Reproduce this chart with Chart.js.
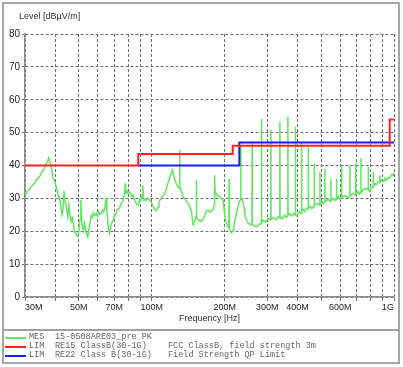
<!DOCTYPE html>
<html lang="en">
<head>
<meta charset="UTF-8">
<title>Level vs Frequency</title>
<script src="https://cdn.jsdelivr.net/npm/chart.js"></script>
<style>
  body { margin: 0; background: #fff; width: 403px; height: 367px; overflow: hidden; }
  #frame { position: absolute; left: 2px; top: 2px; width: 394px; height: 358px; border: 2px solid #a6a6a6; }
  #sep { position: absolute; left: 3px; top: 329px; width: 396px; height: 2px; background: #a0a0a0; }
  #wrap { position: absolute; left: 0; top: 0; width: 403px; height: 330px; }
  #ylab { position: absolute; left: 19px; top: 11px; font: 9px "Liberation Sans", Arial, sans-serif; color: #333; }
  .leg { position: absolute; font: 8.5px "Liberation Mono", monospace; color: #666; white-space: pre; line-height: 9px; }
  .swatch { position: absolute; left: 5px; width: 21px; height: 2px; }
</style>
</head>
<body>
<div id="frame"></div>
<div id="wrap"><canvas id="emc" width="403" height="330"></canvas></div>
<div id="ylab">Level [dBµV/m]</div>
<div id="sep"></div>

<div class="swatch" style="top:337px;background:#5ee85e"></div>
<div class="swatch" style="top:346px;background:#ff2020"></div>
<div class="swatch" style="top:355px;background:#1a1aff"></div>
<div class="leg" style="left:29px;top:333px">MES</div>
<div class="leg" style="left:55px;top:333px">15-0508ARE03_pre PK</div>
<div class="leg" style="left:29px;top:342px">LIM</div>
<div class="leg" style="left:55px;top:342px">RE15 ClassB(30-1G)</div>
<div class="leg" style="left:168px;top:342px">FCC ClassB, field strength 3m</div>
<div class="leg" style="left:29px;top:351px">LIM</div>
<div class="leg" style="left:55px;top:351px">RE22 Class B(30-1G)</div>
<div class="leg" style="left:168px;top:351px">Field Strength QP Limit</div>

<script>
// grid / tick frequencies (MHz)
const GRID_FREQS = [30, 40, 50, 60, 70, 80, 90, 100, 200, 300, 400, 500, 600, 700, 800, 900, 1000];
const LABEL_FREQS = [30, 50, 70, 100, 200, 300, 400, 600, 1000];
const LABEL_TEXT = ['30M', '50M', '70M', '100M', '200M', '300M', '400M', '600M', '1G'];
const LEVEL_TICKS = [0, 10, 20, 30, 40, 50, 60, 70, 80];

// FCC class B limit (red), stepped
const FCC_FREQ = [30, 88, 216, 960, 1000];
const FCC_LEVEL = [40, 43.5, 46, 54, 54];

// QP limit (blue), stepped - below 88M it sits under the red line
const QP_FREQ = [88, 230, 1000];
const QP_LEVEL = [40, 47, 47];

const MES_FREQ = [
  30, 30.6, 31.3, 32, 32.8, 33.5, 34.4, 35.1, 35.8, 36.5, 37.1, 37.6, 38.0, 38.5, 39.1, 39.7, 40.4, 41.0, 41.7, 42.2,
  42.6, 43.0, 43.5, 43.9, 44.4, 45.1, 45.5, 45.9, 46.5, 47.0, 47.5, 48.1, 48.8, 49.6, 50.1, 50.6, 51.0, 51.3, 51.7, 52.3,
  52.8, 53.3, 53.8, 54.5, 55.1, 55.7, 56.4, 57.0, 57.6, 58.3, 59.1, 59.8, 60.4, 61.2, 62.0, 62.7, 63.4, 64.2, 64.8, 65.3,
  65.8, 66.4, 67.0, 67.6, 68.3, 69.2, 70.1, 71.0, 72.0, 73.0, 73.8, 74.8, 75.9, 76.6, 77.3, 77.8, 78.1, 78.6, 79.2, 79.8,
  80.8, 81.9, 82.8, 83.7, 84.8, 85.9, 86.8, 87.8, 88.5, 89.3, 90.0, 90.7, 91.4, 92.0, 92.5, 93.1, 94.0, 95.1, 96.2, 97.2,
  98.5, 99.7, 101.2, 102.9, 104.5, 106.2, 107.1, 107.9, 109.5, 111.3, 113.2, 114.8, 116.5, 118.5, 120.6, 121.8, 123.1, 124.5, 126.4, 128.4,
  129.5, 130.2, 130.5, 130.8, 131.8, 132.7, 134.7, 136.4, 138.2, 139.8, 141.3, 142.5, 143.6, 144.8, 145.9, 147.0, 148.2, 149.3, 150.5, 151.8,
  152.6, 153.0, 153.4, 154.8, 156.4, 157.9, 160.4, 162.9, 165.5, 168.3, 170.9, 173.6, 176.5, 179.2, 180.8, 181.6, 182.1, 182.6, 183.8, 185.1,
  188.0, 191.0, 194.0, 197.1, 198.8, 200.3, 202.5, 204.8, 206.7, 208.2, 208.6, 209.0, 211.0, 213.5, 215.0, 216.7, 218.5, 220.3, 223.5, 226.6,
  229.0, 231.0, 232.8, 233.2, 233.6, 236.0, 238.4, 240.5, 242.3, 245.5, 249.3, 253.5, 258.2, 259.3, 259.7, 260.1, 265.0, 270.8, 277.0, 283.5,
  284.0, 284.5, 288.4, 295.0, 302.4, 309.6, 310.2, 310.8, 318.0, 327.6, 332.0, 337.4, 338.0, 338.6, 346.0, 354.5, 360.0, 364.2, 364.8, 365.4,
  371.0, 378.0, 385.0, 391.1, 391.7, 392.3, 396.3, 405.0, 415.0, 415.6, 416.2, 422.0, 428.6, 435.5, 442.0, 442.6, 443.2, 450.0, 458.0, 468.0,
  468.6, 469.2, 480.8, 493.7, 494.3, 494.9, 504.0, 511.0, 518.0, 518.6, 519.2, 533.3, 548.5, 549.1, 549.7, 561.1, 570.0, 578.9, 579.5, 580.1,
  588.8, 598.0, 607.5, 608.1, 608.7, 627.4, 647.3, 657.3, 657.9, 658.5, 677.0, 694.0, 694.6, 695.2, 712.1, 721.0, 729.9, 730.5, 731.1, 751.7,
  771.1, 782.6, 783.2, 783.8, 795.9, 808.0, 820.8, 821.4, 822.0, 835.0, 848.3, 861.0, 874.4, 875.0, 875.6, 888.0, 900.5, 917.2, 917.8, 918.4,
  933.0, 948.0, 962.7, 978.0, 993.2, 1000
];
const MES_LEVEL = [
  31, 32, 32.6, 33.8, 34.6, 35.8, 36.5, 37.8, 38.6, 40.2, 41.2, 42.3, 41.4, 39.5, 36.6, 35.2, 33.5, 31.5, 29.8, 27.5,
  25.0, 26.5, 32.2, 29.5, 27.5, 24.4, 27.8, 25.5, 23.0, 24.0, 22.0, 20.0, 19.0, 18.4, 20.5, 23.5, 29.5, 25.0, 21.5, 20.2,
  22.5, 20.8, 19.2, 18.3, 20.5, 22.8, 24.9, 24.2, 25.6, 24.8, 25.4, 24.6, 26.0, 25.1, 25.6, 26.4, 26.0, 27.5, 30.2, 26.0,
  23.5, 20.5, 19.4, 21.2, 22.3, 23.4, 24.4, 25.2, 26.2, 26.8, 27.2, 28.4, 29.2, 30.4, 31.5, 34.6, 33.0, 31.6, 32.2, 31.8,
  32.0, 31.3, 30.6, 30.9, 29.6, 28.8, 28.2, 28.0, 28.8, 29.6, 29.2, 30.1, 31.0, 34.0, 30.0, 29.4, 29.8, 29.4, 30.0, 29.8,
  29.2, 28.8, 27.6, 26.6, 26.2, 27.4, 28.2, 29.4, 30.0, 30.8, 31.6, 32.8, 34.4, 36.2, 37.8, 38.6, 37.0, 35.6, 34.5, 33.5,
  33.2, 33.0, 44.7, 33.4, 32.6, 32.2, 30.6, 30.0, 29.4, 29.0, 28.4, 28.0, 27.4, 26.8, 26.2, 24.0, 21.9, 22.6, 23.2, 24.2,
  24.5, 35.6, 24.4, 23.6, 23.2, 23.4, 23.0, 23.6, 24.8, 26.2, 26.5, 25.8, 26.2, 26.6, 28.0, 30.5, 37.0, 32.0, 31.6, 31.2,
  30.8, 30.4, 30.0, 29.4, 27.0, 24.6, 23.0, 22.0, 21.2, 21.0, 36.0, 20.8, 20.0, 19.5, 19.8, 20.4, 21.6, 23.0, 25.2, 27.2,
  28.6, 29.4, 29.6, 46.0, 29.6, 29.8, 29.0, 27.0, 25.0, 23.6, 22.6, 22.2, 21.9, 22.0, 46.7, 22.0, 21.6, 21.4, 22.0, 22.6,
  54.3, 22.6, 23.4, 22.8, 23.9, 23.5, 50.8, 23.6, 24.2, 23.5, 24.4, 24.1, 53.3, 24.2, 23.8, 24.9, 24.2, 24.7, 54.8, 24.8,
  25.3, 24.6, 25.4, 25.0, 51.8, 25.0, 24.7, 25.9, 25.4, 47.2, 26.0, 26.6, 26.0, 27.0, 26.8, 45.5, 26.8, 27.6, 26.9, 27.7,
  40.6, 27.8, 28.5, 27.9, 38.0, 28.4, 29.0, 28.4, 29.0, 39.1, 29.0, 29.7, 29.0, 36.0, 29.3, 30.0, 29.4, 29.8, 36.0, 29.8,
  30.5, 29.7, 30.2, 39.6, 30.2, 30.9, 30.2, 30.7, 40.1, 30.7, 31.5, 31.0, 40.6, 31.3, 32.0, 31.3, 31.8, 42.2, 31.8, 32.8,
  33.0, 32.6, 39.6, 32.6, 32.0, 33.4, 33.6, 38.0, 33.6, 34.5, 34.2, 35.0, 35.0, 37.0, 35.0, 35.6, 35.2, 35.5, 36.6, 35.5,
  35.6, 36.4, 36.2, 37.2, 37.0, 38.0
];

const toPoints = (xs, ys) => xs.map((f, i) => ({ x: f, y: ys[i] }));

const emc = new Chart(document.getElementById('emc'), {
  type: 'line',
  data: {
    datasets: [
      {
        label: 'LIM RE15 ClassB(30-1G)',
        data: toPoints(FCC_FREQ, FCC_LEVEL),
        borderColor: '#ff2020',
        borderWidth: 2,
        stepped: 'before',
        pointRadius: 0
      },
      {
        label: 'LIM RE22 Class B(30-1G)',
        data: toPoints(QP_FREQ, QP_LEVEL),
        borderColor: '#1a1aff',
        borderWidth: 2,
        stepped: 'before',
        pointRadius: 0
      },
      {
        label: 'MES 15-0508ARE03_pre PK',
        data: toPoints(MES_FREQ, MES_LEVEL),
        borderColor: '#5ee85e',
        borderWidth: 1.5,
        tension: 0,
        pointRadius: 0
      }
    ]
  },
  options: {
    responsive: false,
    animation: false,
    devicePixelRatio: 1,
    layout: { padding: { top: 34, right: 9, bottom: 0, left: 0 } },
    plugins: { legend: { display: false }, tooltip: { enabled: false } },
    scales: {
      x: {
        type: 'logarithmic',
        min: 30,
        max: 1000,
        afterBuildTicks: s => { s.ticks = GRID_FREQS.map(v => ({ value: v })); },
        afterFit: s => { s.height = 33; },
        ticks: {
          autoSkip: false,
          maxRotation: 0,
          align: 'inner',
          padding: 1,
          color: '#222',
          font: { size: 9, family: 'Liberation Sans' },
          callback: v => {
            const i = LABEL_FREQS.indexOf(v);
            return i < 0 ? '' : LABEL_TEXT[i];
          }
        },
        grid: { color: '#707070', lineWidth: 1, tickLength: 4 },
        border: { dash: [3, 2], color: '#8c8c8c', width: 1.5 },
        title: {
          display: true,
          text: 'Frequency [Hz]',
          color: '#333',
          font: { size: 9, family: 'Liberation Sans' },
          padding: { top: 0, bottom: 6 }
        }
      },
      y: {
        min: 0,
        max: 80,
        afterBuildTicks: s => { s.ticks = LEVEL_TICKS.map(v => ({ value: v })); },
        afterFit: s => { s.width = 25; },
        ticks: { color: '#222', padding: 2, font: { size: 10, family: 'Liberation Sans' } },
        grid: { color: '#707070', lineWidth: 1, tickLength: 3 },
        border: { dash: [3, 2], color: '#8c8c8c', width: 1.5 }
      }
    }
  }
});
</script>
</body>
</html>
